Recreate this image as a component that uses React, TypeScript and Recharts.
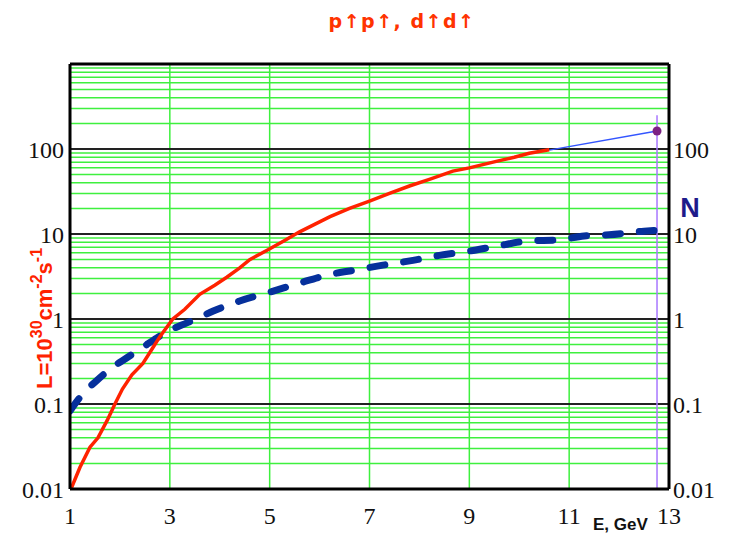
import React from "react";
import {
  ComposedChart,
  Line,
  XAxis,
  YAxis,
  ReferenceLine,
} from "recharts";

// x ticks (E, GeV) and log decades for both y axes
const xTicks = [1, 3, 5, 7, 9, 11, 13];
const xGrid = [3, 5, 7, 9, 11];
const yTicks = [0.01, 0.1, 1, 10, 100];
const decades = [0.01, 0.1, 1, 10, 100];
const minorSteps = [2, 3, 4, 5, 6, 7, 8, 9];

// luminosity, p↑p↑ (red, solid)
const lumE = [1.02, 1.2, 1.4, 1.56, 1.75, 1.9, 2.05, 2.24, 2.46, 2.65, 2.8, 3.06, 3.3, 3.6, 3.9, 4.14, 4.4, 4.6, 4.94, 5.3, 5.6, 5.9, 6.21, 6.6, 7.0, 7.4, 7.8, 8.2, 8.67, 9.0, 9.56, 9.9, 10.2, 10.6];
const lumL = [0.01, 0.018, 0.031, 0.04, 0.065, 0.1, 0.15, 0.22, 0.3, 0.45, 0.62, 1.0, 1.3, 1.95, 2.5, 3.1, 4.0, 5.0, 6.4, 8.4, 10.6, 13, 16, 20, 24.4, 30, 36.7, 44, 55, 60, 72, 80, 89, 98];

// N (blue, dashed)
const nE = [1.0, 1.25, 1.54, 1.85, 2.14, 2.45, 2.74, 3.05, 3.34, 3.6, 3.87, 4.4, 5.04, 5.6, 6.17, 6.75, 7.27, 7.87, 8.4, 9.0, 9.5, 10.2, 10.76, 11.3, 11.8, 12.5, 12.7];
const nVal = [0.083, 0.13, 0.19, 0.27, 0.35, 0.46, 0.6, 0.76, 0.9, 1.05, 1.24, 1.63, 2.1, 2.65, 3.3, 3.8, 4.3, 4.9, 5.6, 6.3, 7.1, 8.3, 8.5, 9.5, 9.8, 10.8, 11.0];

// extrapolation to the top energy
const extE = [10.6, 12.76];
const extL = [97, 163];
const markerE = [12.76];
const markerL = [163];
const limitE = [12.76, 12.76];
const limitL = [0.01, 250];

const zip = (xs: number[], ys: number[]) => xs.map((x, i) => ({ x, y: ys[i] }));

const lumData = zip(lumE, lumL);
const nData = zip(nE, nVal);
const extData = zip(extE, extL);
const markerData = zip(markerE, markerL);
const limitData = zip(limitE, limitL);

const minorLines = decades.flatMap((d) => minorSteps.map((m) => +(d * m).toPrecision(3)));

const GREEN = "#3ef03e";
const tickStyle = { fill: "#111", fontSize: 24, fontFamily: "'Liberation Serif', serif" };

export default function App() {
  return (
    <div style={{ position: "absolute", left: 0, top: 0, width: 734, height: 535, background: "#fff" }}>
      <ComposedChart width={734} height={535} margin={{ top: 64, right: 0, left: 0, bottom: 0 }}>
        <XAxis
          type="number"
          dataKey="x"
          domain={[1, 13]}
          ticks={xTicks}
          allowDataOverflow
          height={46}
          tickSize={0}
          tickMargin={18}
          tick={tickStyle}
          axisLine={{ stroke: "#000", strokeWidth: 3 }}
        />
        <YAxis
          yAxisId="left"
          type="number"
          dataKey="y"
          scale="log"
          domain={[0.01, 1000]}
          ticks={yTicks}
          allowDataOverflow
          width={70}
          tickSize={0}
          tickMargin={6}
          tick={tickStyle}
          tickFormatter={(v) => String(v)}
          axisLine={{ stroke: "#000", strokeWidth: 3 }}
        />
        <YAxis
          yAxisId="right"
          orientation="right"
          type="number"
          scale="log"
          domain={[0.01, 1000]}
          ticks={yTicks}
          allowDataOverflow
          width={65}
          tickSize={0}
          tickMargin={4}
          tick={{ ...tickStyle, textAnchor: "start" }}
          tickFormatter={(v) => String(v)}
          axisLine={{ stroke: "#000", strokeWidth: 3 }}
        />

        {minorLines.map((v) => (
          <ReferenceLine key={`m${v}`} yAxisId="left" y={v} stroke={GREEN} strokeWidth={1.5} />
        ))}
        {xGrid.map((v) => (
          <ReferenceLine key={`v${v}`} yAxisId="left" x={v} stroke={GREEN} strokeWidth={1.5} />
        ))}
        {decades.slice(1).map((v) => (
          <ReferenceLine key={`d${v}`} yAxisId="left" y={v} stroke="#222" strokeWidth={2} />
        ))}
        <ReferenceLine yAxisId="left" y={1000} stroke="#000" strokeWidth={3} />

        <Line
          yAxisId="left"
          data={limitData}
          dataKey="y"
          stroke="#a877ff"
          strokeWidth={1.5}
          dot={false}
          isAnimationActive={false}
        />
        <Line
          yAxisId="left"
          data={nData}
          dataKey="y"
          type="monotone"
          stroke="#06309c"
          strokeWidth={7}
          strokeDasharray="15 19"
          strokeLinecap="round"
          dot={false}
          isAnimationActive={false}
        />
        <Line
          yAxisId="left"
          data={extData}
          dataKey="y"
          stroke="#3355ff"
          strokeWidth={1.5}
          dot={false}
          isAnimationActive={false}
        />
        <Line
          yAxisId="left"
          data={lumData}
          dataKey="y"
          stroke="#ff2200"
          strokeWidth={3.5}
          dot={false}
          isAnimationActive={false}
        />
        <Line
          yAxisId="left"
          data={markerData}
          dataKey="y"
          stroke="none"
          dot={{ r: 4.5, fill: "#7b2283", stroke: "none" }}
          isAnimationActive={false}
        />
      </ComposedChart>

      <svg width={734} height={535} style={{ position: "absolute", left: 0, top: 0, pointerEvents: "none" }}>
        <text
          x={402}
          y={28}
          textAnchor="middle"
          fill="#ff3300"
          fontSize={19}
          fontWeight="bold"
          letterSpacing={1.5}
          fontFamily="'DejaVu Sans', sans-serif"
        >
          p↑p↑, d↑d↑
        </text>
        <text
          transform="translate(52,389) rotate(-90)"
          fill="#ff2200"
          fontSize={22}
          fontWeight="bold"
          fontFamily="'Liberation Sans', Arial, sans-serif"
        >
          L=10
          <tspan fontSize={16} dy={-10}>30</tspan>
          <tspan dy={10}>cm</tspan>
          <tspan fontSize={16} dy={-10}>-2</tspan>
          <tspan dy={10}>s</tspan>
          <tspan fontSize={16} dy={-10}>-1</tspan>
        </text>
        <text
          x={690}
          y={217}
          textAnchor="middle"
          fill="#1e1a8a"
          fontSize={27}
          fontWeight="bold"
          fontFamily="'Liberation Sans', Arial, sans-serif"
        >
          N
        </text>
        <text
          x={593}
          y={530}
          fill="#111"
          fontSize={17}
          fontWeight="bold"
          fontFamily="'Liberation Sans', Arial, sans-serif"
        >
          E, GeV
        </text>
      </svg>
    </div>
  );
}
